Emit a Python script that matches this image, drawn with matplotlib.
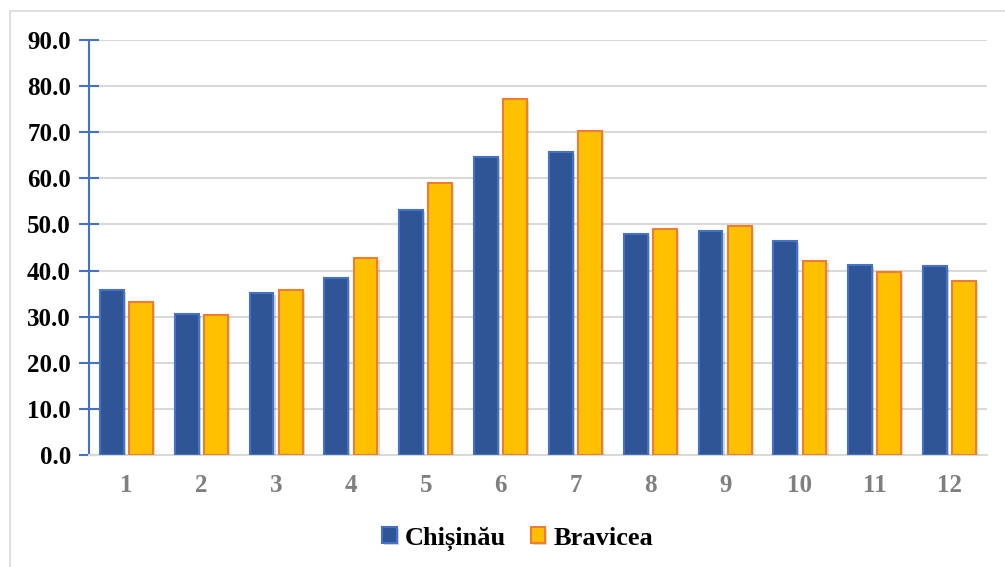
import matplotlib
matplotlib.use('Agg')
import matplotlib.pyplot as plt
import matplotlib.patheffects as pe
from matplotlib.patches import Rectangle
import numpy as np

months = ['1', '2', '3', '4', '5', '6', '7', '8', '9', '10', '11', '12']
chisinau = [35.8, 30.6, 35.1, 38.4, 53.1, 64.6, 65.7, 47.9, 48.6, 46.4, 41.2, 41.0]
bravicea = [33.2, 30.4, 35.8, 42.7, 59.0, 77.2, 70.3, 49.0, 49.7, 42.1, 39.7, 37.7]
yticks = np.arange(0, 100, 10)

plt.rcParams['font.family'] = ['Liberation Serif', 'DejaVu Serif']

fig = plt.figure(figsize=(10.05, 5.67), dpi=100)
ax = fig.add_axes([89/1005, 112/567, 898/1005, 415/567])

# light frame around the chart area (only top and left edges fall inside the image)
fig.patches.append(Rectangle((10/1005, -0.2), 1.5, 1.2 - 11/567, transform=fig.transFigure,
                             fill=False, edgecolor='#D9D9D9', linewidth=1.2))

x = np.arange(len(months))
w = 0.32
off = 0.195
shadow = [pe.SimplePatchShadow(offset=(1.5, -1.5), alpha=0.18), pe.Normal()]
b1 = ax.bar(x - off, chisinau, w, color='#2F5597', edgecolor='#4472C4', linewidth=1.5,
            label='Chișinău', zorder=3)
b2 = ax.bar(x + off, bravicea, w, color='#FFC000', edgecolor='#ED7D31', linewidth=1.5,
            label='Bravicea', zorder=3)
for p in list(b1) + list(b2):
    p.set_path_effects(shadow)

ax.set_xlim(-0.5, len(months) - 0.5)
ax.set_ylim(0, 90)
ax.set_yticks(yticks)
ax.set_yticklabels(['%.1f' % v for v in yticks])
ax.set_xticks(x)
ax.set_xticklabels(months)

ax.grid(axis='y', color='#D9D9D9', linewidth=1.5, zorder=0)
ax.set_axisbelow(True)
for s in ['top', 'right']:
    ax.spines[s].set_visible(False)
ax.spines['left'].set_color('#4472C4')
ax.spines['left'].set_linewidth(1.5)
ax.spines['bottom'].set_color('#D9D9D9')
ax.spines['bottom'].set_linewidth(1.5)

ax.tick_params(axis='y', direction='inout', length=14, width=1.5, color='#4472C4',
               labelsize=18, pad=6)
ax.tick_params(axis='x', length=0, labelsize=18, labelcolor='#7F7F7F', pad=14)
for t in ax.get_yticklabels():
    t.set_fontweight('bold')
for t in ax.get_xticklabels():
    t.set_fontweight('bold')

fig.legend(handles=[b1, b2], loc='center', bbox_to_anchor=(0.515, 0.05), ncol=2,
           frameon=False, prop={'size': 19, 'weight': 'bold'},
           handlelength=0.55, handleheight=0.55, handletextpad=0.3, columnspacing=0.95)

fig.savefig('out.png', dpi=100)
